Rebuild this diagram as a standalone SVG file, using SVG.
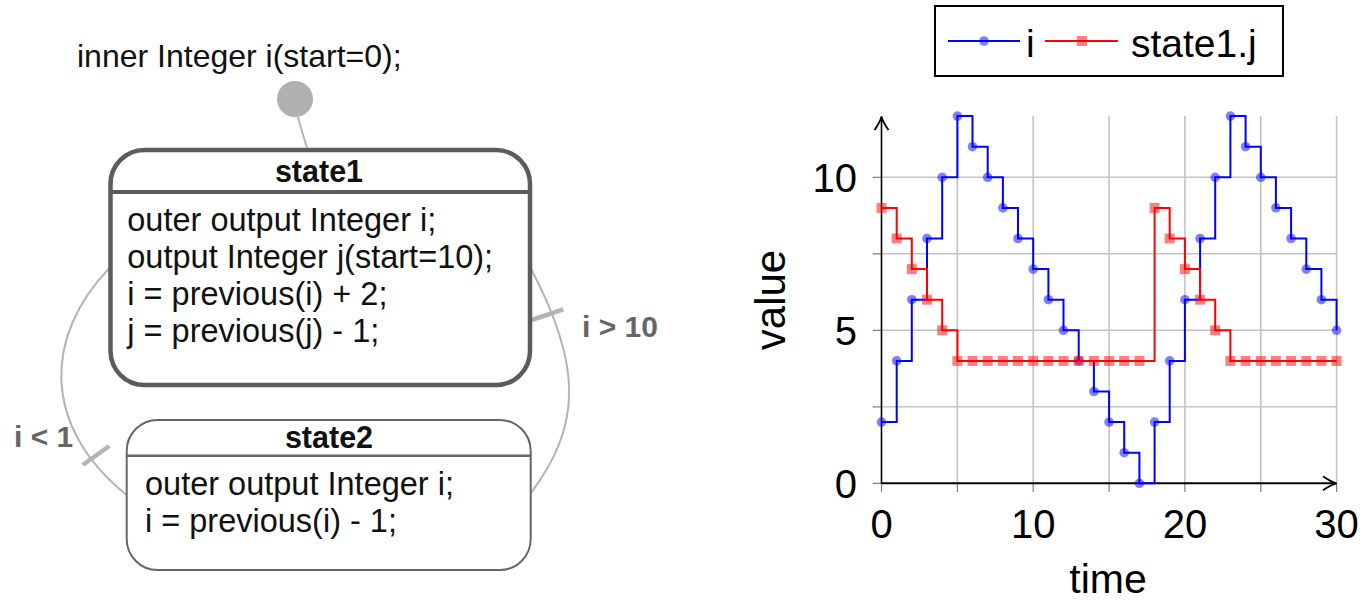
<svg xmlns="http://www.w3.org/2000/svg" xmlns:xlink="http://www.w3.org/1999/xlink" width="1369" height="600" viewBox="0 0 1369 600">
<defs>
<style>
.t{font-family:"Liberation Sans",Arial,sans-serif;fill:#111}
.body{font-size:32.5px}
.head{font-size:30.5px;font-weight:bold;text-anchor:middle}
.lbl{font-family:"Liberation Sans",Arial,sans-serif;font-size:30px;font-weight:bold;fill:#666}
.conn{fill:none;stroke:#b4b4b4;stroke-width:2}
.bar{stroke:#b4b4b4;stroke-width:4.5}
.grid{stroke:#c4c4c4;stroke-width:1.6;fill:none}
.tick{stroke:#808080;stroke-width:1.2}
.ax{font-family:"Liberation Sans",Arial,sans-serif;font-size:40px;fill:#000}
</style>
<circle id="dot" r="4.8" fill="#0000ff" fill-opacity="0.5"/>
<rect id="sq" x="-5" y="-5" width="10" height="10" fill="#ff0000" fill-opacity="0.5"/>
</defs>
<rect width="1369" height="600" fill="#fff"/>

<text class="t" x="77" y="67" style="font-size:32px">inner Integer i(start=0);</text>

<g id="connectors">
<line class="conn" x1="297.7" y1="116.7" x2="307" y2="148"/>
<path class="conn" d="M109.3,268.3 C45,335 40,425 126.7,495"/>
<line class="bar" x1="82.7" y1="465" x2="109.3" y2="446"/>
<text class="lbl" x="14" y="447">i &lt; 1</text>
<path class="conn" d="M530.7,268.3 C582,365 582,425 530.7,493.3"/>
<line class="bar" x1="531.7" y1="320" x2="563.3" y2="309.3"/>
<text class="lbl" x="582" y="337">i &gt; 10</text>
</g>

<g id="initial">
<circle cx="295" cy="99" r="18" fill="#b0b0b0"/>
</g>

<g id="state1">
<rect x="110.5" y="150" width="419.5" height="235" rx="34" ry="34" fill="#fff" stroke="#5c5c5c" stroke-width="4.5"/>
<line x1="110.5" y1="192" x2="530" y2="192" stroke="#5c5c5c" stroke-width="4"/>
<text class="t head" x="319" y="182">state1</text>
<text class="t body" x="127.3" y="231">outer output Integer i;</text>
<text class="t body" x="127.3" y="268">output Integer j(start=10);</text>
<text class="t body" x="127.3" y="305">i = previous(i) + 2;</text>
<text class="t body" x="127.3" y="342">j = previous(j) - 1;</text>
</g>

<g id="state2">
<rect x="126.7" y="420" width="404" height="150" rx="31" ry="31" fill="#fff" stroke="#666" stroke-width="2"/>
<line x1="126.7" y1="455.7" x2="530.7" y2="455.7" stroke="#666" stroke-width="2.5"/>
<text class="t head" x="329" y="448">state2</text>
<text class="t body" x="145" y="495">outer output Integer i;</text>
<text class="t body" x="145" y="532">i = previous(i) - 1;</text>
</g>

<g id="plot">
<g class="grid">
<path d="M957.4,116.1V483.3M1033.2,116.1V483.3M1109.1,116.1V483.3M1184.9,116.1V483.3M1260.8,116.1V483.3M1336.6,116.1V483.3"/>
<path d="M881.5,406.8H1336.6M881.5,330.3H1336.6M881.5,253.8H1336.6M881.5,177.3H1336.6"/>
</g>
<g class="tick">
<path d="M872.7,483.3H881.5M872.7,406.8H881.5M872.7,330.3H881.5M872.7,253.8H881.5M872.7,177.3H881.5"/>
<path d="M881.5,483.3V492M957.4,483.3V492M1033.2,483.3V492M1109.1,483.3V492M1184.9,483.3V492M1260.8,483.3V492M1336.6,483.3V492"/>
</g>
<path d="M881.5,483.3H1336" stroke="#000" stroke-width="2" fill="none"/>
<path d="M881.5,483.3V117" stroke="#000" stroke-width="1.6" fill="none"/>
<path d="M1323,476.3 Q1331,482 1336.6,483.3 Q1331,484.6 1323,490.3" stroke="#000" stroke-width="1.8" fill="none"/>
<path d="M874.5,130 Q880.2,122 881.5,116.5 Q882.8,122 888.5,130" stroke="#000" stroke-width="1.8" fill="none"/>

<g id="series-i">
<path d="M881.5,422.1H896.7V360.9H911.8V299.7H927V238.5H942.2V177.3H957.4V116.1H972.5V146.7H987.7V177.3H1002.9V207.9H1018V238.5H1033.2V269.1H1048.4V299.7H1063.5V330.3H1078.7V360.9H1093.9V391.5H1109.1V422.1H1124.2V452.7H1139.4V483.3H1154.6V422.1H1169.7V360.9H1184.9V299.7H1200.1V238.5H1215.2V177.3H1230.4V116.1H1245.6V146.7H1260.8V177.3H1275.9V207.9H1291.1V238.5H1306.3V269.1H1321.4V299.7H1336.6V330.3" fill="none" stroke="#0000ff" stroke-width="2"/>
<use href="#dot" x="881.5" y="422.1"/><use href="#dot" x="896.7" y="360.9"/><use href="#dot" x="911.8" y="299.7"/><use href="#dot" x="927" y="238.5"/><use href="#dot" x="942.2" y="177.3"/><use href="#dot" x="957.4" y="116.1"/><use href="#dot" x="972.5" y="146.7"/><use href="#dot" x="987.7" y="177.3"/><use href="#dot" x="1002.9" y="207.9"/><use href="#dot" x="1018" y="238.5"/><use href="#dot" x="1033.2" y="269.1"/><use href="#dot" x="1048.4" y="299.7"/><use href="#dot" x="1063.5" y="330.3"/><use href="#dot" x="1078.7" y="360.9"/><use href="#dot" x="1093.9" y="391.5"/><use href="#dot" x="1109.1" y="422.1"/><use href="#dot" x="1124.2" y="452.7"/><use href="#dot" x="1139.4" y="483.3"/><use href="#dot" x="1154.6" y="422.1"/><use href="#dot" x="1169.7" y="360.9"/><use href="#dot" x="1184.9" y="299.7"/><use href="#dot" x="1200.1" y="238.5"/><use href="#dot" x="1215.2" y="177.3"/><use href="#dot" x="1230.4" y="116.1"/><use href="#dot" x="1245.6" y="146.7"/><use href="#dot" x="1260.8" y="177.3"/><use href="#dot" x="1275.9" y="207.9"/><use href="#dot" x="1291.1" y="238.5"/><use href="#dot" x="1306.3" y="269.1"/><use href="#dot" x="1321.4" y="299.7"/><use href="#dot" x="1336.6" y="330.3"/>
</g>
<g id="series-j">
<path d="M881.5,207.9H896.7V238.5H911.8V269.1H927V299.7H942.2V330.3H957.4V360.9H1154.6V207.9H1169.7V238.5H1184.9V269.1H1200.1V299.7H1215.2V330.3H1230.4V360.9H1336.6" fill="none" stroke="#ff0000" stroke-width="2"/>
<use href="#sq" x="881.5" y="207.9"/><use href="#sq" x="896.7" y="238.5"/><use href="#sq" x="911.8" y="269.1"/><use href="#sq" x="927" y="299.7"/><use href="#sq" x="942.2" y="330.3"/><use href="#sq" x="957.4" y="360.9"/><use href="#sq" x="972.5" y="360.9"/><use href="#sq" x="987.7" y="360.9"/><use href="#sq" x="1002.9" y="360.9"/><use href="#sq" x="1018" y="360.9"/><use href="#sq" x="1033.2" y="360.9"/><use href="#sq" x="1048.4" y="360.9"/><use href="#sq" x="1063.5" y="360.9"/><use href="#sq" x="1078.7" y="360.9"/><use href="#sq" x="1093.9" y="360.9"/><use href="#sq" x="1109.1" y="360.9"/><use href="#sq" x="1124.2" y="360.9"/><use href="#sq" x="1139.4" y="360.9"/><use href="#sq" x="1154.6" y="207.9"/><use href="#sq" x="1169.7" y="238.5"/><use href="#sq" x="1184.9" y="269.1"/><use href="#sq" x="1200.1" y="299.7"/><use href="#sq" x="1215.2" y="330.3"/><use href="#sq" x="1230.4" y="360.9"/><use href="#sq" x="1245.6" y="360.9"/><use href="#sq" x="1260.8" y="360.9"/><use href="#sq" x="1275.9" y="360.9"/><use href="#sq" x="1291.1" y="360.9"/><use href="#sq" x="1306.3" y="360.9"/><use href="#sq" x="1321.4" y="360.9"/><use href="#sq" x="1336.6" y="360.9"/>
</g>

<g class="ax">
<text x="857" y="498" text-anchor="end">0</text>
<text x="857" y="345" text-anchor="end">5</text>
<text x="857" y="192" text-anchor="end">10</text>
<text x="881.5" y="538" text-anchor="middle">0</text>
<text x="1033.2" y="538" text-anchor="middle">10</text>
<text x="1184.9" y="538" text-anchor="middle">20</text>
<text x="1336.6" y="538" text-anchor="middle">30</text>
<text x="1108" y="593" text-anchor="middle" style="font-size:41px">time</text>
<text transform="translate(785,300) rotate(-90)" text-anchor="middle" style="font-size:42px">value</text>
</g>

<g id="legend">
<rect x="935" y="6" width="348" height="70" fill="#fff" stroke="#000" stroke-width="2"/>
<line x1="948" y1="41" x2="1020" y2="41" stroke="#0000ff" stroke-width="2"/>
<use href="#dot" x="984" y="41"/>
<text class="ax" x="1026" y="57" style="font-size:39px">i</text>
<line x1="1045" y1="41" x2="1118" y2="41" stroke="#ff0000" stroke-width="2"/>
<use href="#sq" x="1082" y="41"/>
<text class="ax" x="1131" y="57" style="font-size:39px">state1.j</text>
</g>
</g>
</svg>
